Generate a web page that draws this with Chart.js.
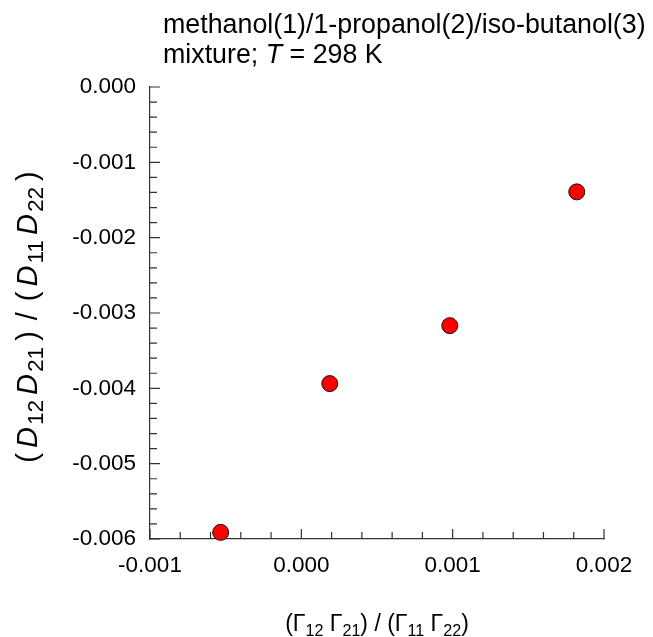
<!DOCTYPE html>
<html>
<head>
<meta charset="utf-8">
<script src="https://cdn.jsdelivr.net/npm/chart.js@4"></script>
<style>
  body { margin: 0; background: #fff; }
  canvas { display: block; }
</style>
</head>
<body>
<canvas id="c" width="653" height="637"></canvas>
<script>
// data
const gammaRatio = [-0.000533, 0.000188, 0.000981, 0.00182];
const diffRatio = [-0.005912, -0.003937, -0.003168, -0.001392];
const xTicks = [-0.001, 0.000, 0.001, 0.002];
const yTicks = [-0.006, -0.005, -0.004, -0.003, -0.002, -0.001, 0.000];
const titleLines = ['methanol(1)/1-propanol(2)/iso-butanol(3)', 'mixture; '];

const FONT = '"Liberation Sans", Arial, sans-serif';

function majorLabel(v) {
    var r = Math.round(v * 1000) / 1000;
    if (Math.abs(v - r) < 1e-9) return (r === 0 ? 0 : r).toFixed(3);
    return '';
}

// draws text pieces with subscripts, centred on x; p.g = extra space after a piece
function richText(ctx, parts, x, y, size, subScale) {
    var w = 0;
    parts.forEach(function (p) {
        var s = p.sub ? size * subScale : size;
        ctx.font = (p.it ? 'italic ' : '') + s + 'px ' + FONT;
        p.w = ctx.measureText(p.t).width + (p.g || 0);
        w += p.w;
    });
    var cx = x - w / 2;
    parts.forEach(function (p) {
        var s = p.sub ? size * subScale : size;
        ctx.font = (p.it ? 'italic ' : '') + s + 'px ' + FONT;
        ctx.fillText(p.t, cx, p.sub ? y + size * 0.22 : y);
        cx += p.w;
    });
}

const decor = {
    id: 'decor',
    afterDraw(chart) {
        var ctx = chart.ctx;
        var a = chart.chartArea;
        ctx.save();
        ctx.strokeStyle = '#333';
        ctx.lineWidth = 1.2;
        // inward tick marks
        var xs = chart.scales.x, ys = chart.scales.y;
        ctx.beginPath();
        xs.ticks.forEach(function (t) {
            var px = xs.getPixelForValue(t.value);
            var len = majorLabel(t.value) ? 10 : 7;
            ctx.moveTo(px, a.bottom);
            ctx.lineTo(px, a.bottom - len);
        });
        ys.ticks.forEach(function (t) {
            var py = ys.getPixelForValue(t.value);
            var len = majorLabel(t.value) ? 10 : 7;
            ctx.moveTo(a.left, py);
            ctx.lineTo(a.left + len, py);
        });
        ctx.stroke();

        ctx.fillStyle = '#000';
        ctx.textBaseline = 'alphabetic';
        // title
        ctx.textAlign = 'left';
        ctx.font = '26.8px ' + FONT;
        ctx.fillText(titleLines[0], 163, 33);
        var x0 = 163;
        ctx.fillText(titleLines[1], x0, 63);
        x0 += ctx.measureText(titleLines[1]).width;
        ctx.font = 'italic 26.8px ' + FONT;
        ctx.fillText('T', x0, 63);
        x0 += ctx.measureText('T').width;
        ctx.font = '26.8px ' + FONT;
        ctx.fillText(' = 298 K', x0, 63);

        // x axis title
        richText(ctx, [
            {t: '('}, {t: '\u0393'}, {t: '12', sub: true}, {t: ' \u0393'}, {t: '21', sub: true},
            {t: ') / ('}, {t: '\u0393'}, {t: '11', sub: true}, {t: ' \u0393'}, {t: '22', sub: true}, {t: ')'}
        ], (a.left + a.right) / 2, 631, 23, 0.7);

        // y axis title
        ctx.translate(37, 317);
        ctx.rotate(-Math.PI / 2);
        richText(ctx, [
            {t: '(', g: 5}, {t: 'D', it: true, g: 2}, {t: '12', sub: true, g: 5},
            {t: 'D', it: true, g: 2}, {t: '21', sub: true, g: 6},
            {t: ')', g: 11}, {t: '/', g: 11}, {t: '(', g: 5},
            {t: 'D', it: true, g: 2}, {t: '11', sub: true, g: 5},
            {t: 'D', it: true, g: 2}, {t: '22', sub: true, g: 6}, {t: ')'}
        ], 0, 0, 29, 0.78);
        ctx.restore();
    }
};

new Chart(document.getElementById('c'), {
    type: 'scatter',
    data: {
        datasets: [{
            data: gammaRatio.map(function (x, i) { return {x: x, y: diffRatio[i]}; }),
            backgroundColor: '#ff0000',
            borderColor: '#111',
            borderWidth: 1,
            pointRadius: 8,
            pointHoverRadius: 8,
            clip: false
        }]
    },
    options: {
        responsive: false,
        animation: false,
        events: [],
        layout: { padding: { left: 0, top: 87, right: 49, bottom: 0 } },
        plugins: { legend: { display: false }, tooltip: { enabled: false } },
        scales: {
            x: {
                type: 'linear',
                min: xTicks[0],
                max: xTicks[xTicks.length - 1],
                grid: { display: false },
                border: { display: true, color: '#333', width: 1.2 },
                ticks: {
                    stepSize: 0.0002,
                    autoSkip: false,
                    maxRotation: 0,
                    padding: 5,
                    color: '#000',
                    font: { family: FONT, size: 22.5 },
                    callback: majorLabel
                },
                afterFit: function (s) { s.height = 98; }
            },
            y: {
                type: 'linear',
                min: yTicks[0],
                max: yTicks[yTicks.length - 1],
                grid: { display: false },
                border: { display: true, color: '#333', width: 1.2 },
                ticks: {
                    stepSize: 0.0002,
                    autoSkip: false,
                    padding: 6,
                    color: '#000',
                    font: { family: FONT, size: 22.5 },
                    callback: majorLabel
                },
                afterFit: function (s) { s.width = 150; }
            }
        }
    },
    plugins: [decor]
});
</script>
</body>
</html>
